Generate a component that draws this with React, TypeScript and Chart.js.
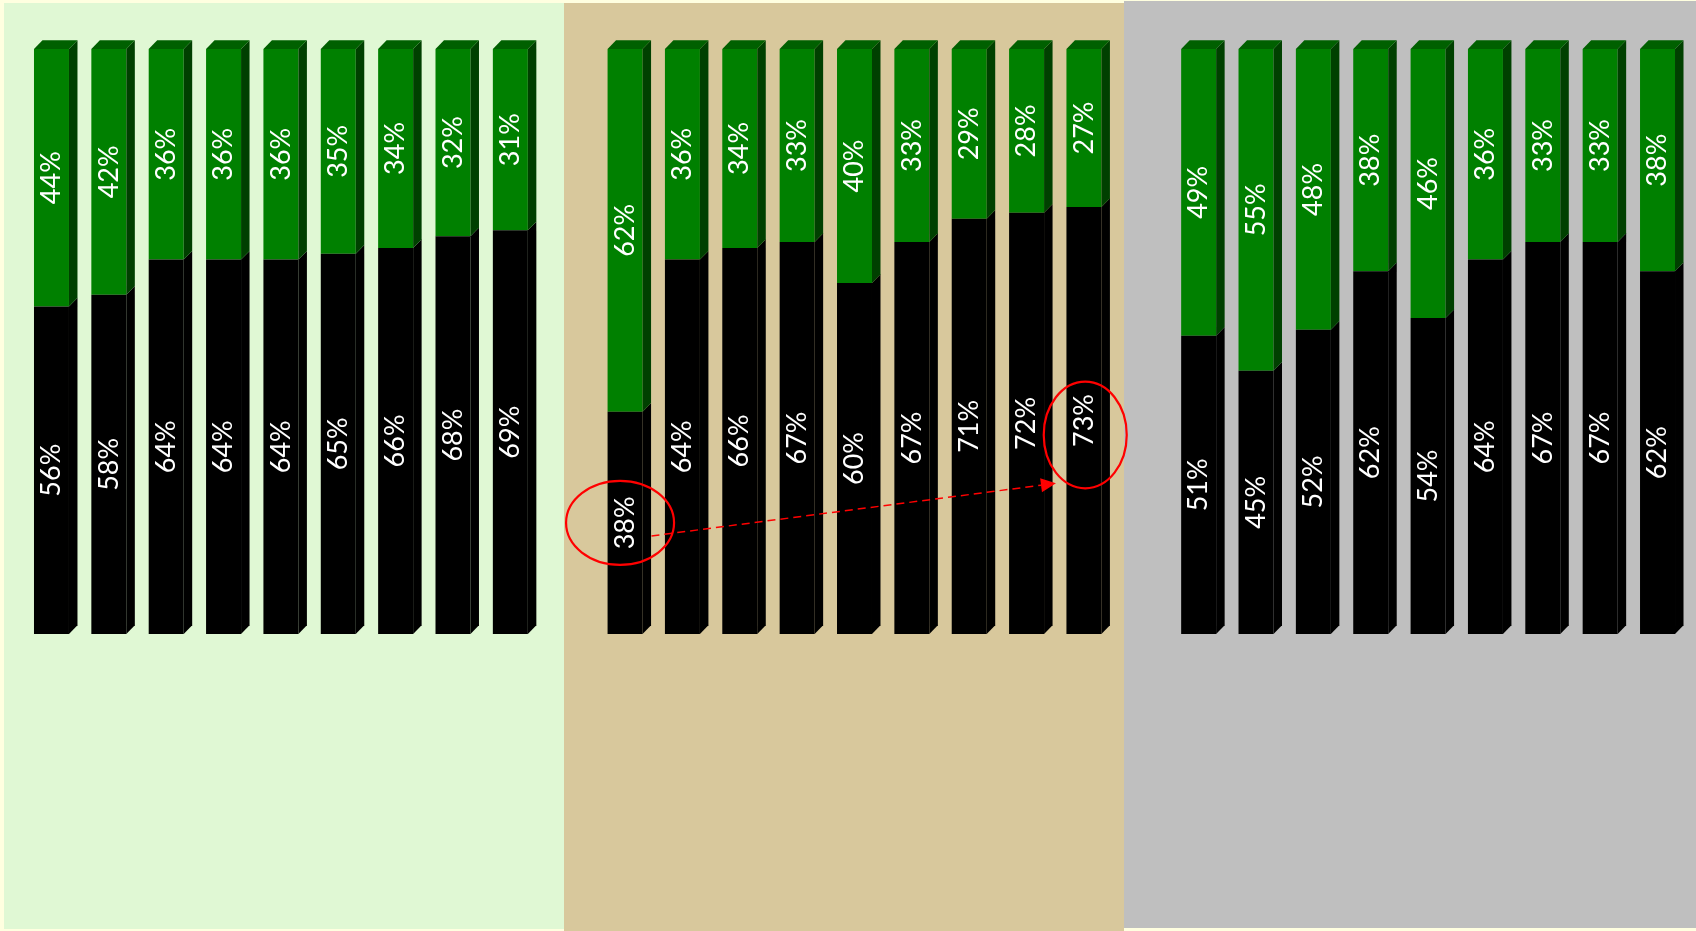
import React, { useEffect, useRef } from "react";
import { Chart, registerables } from "chart.js";

Chart.register(...registerables);

// ---- data (three groups of nine bars, shares in percent) ----
const GROUP_1_DARK = [56, 58, 64, 64, 64, 65, 66, 68, 69];
const GROUP_1_GREEN = [44, 42, 36, 36, 36, 35, 34, 32, 31];
const GROUP_2_DARK = [38, 64, 66, 67, 60, 67, 71, 72, 73];
const GROUP_2_GREEN = [62, 36, 34, 33, 40, 33, 29, 28, 27];
const GROUP_3_DARK = [51, 45, 52, 62, 54, 64, 67, 67, 62];
const GROUP_3_GREEN = [49, 55, 48, 38, 46, 36, 33, 33, 38];

// highlighted comparison: group 2, bar 1 -> group 2, bar 9 (dark series)
const HIGHLIGHT_FROM = { group: 1, bar: 0 };
const HIGHLIGHT_TO = { group: 1, bar: 8 };

// ---- styles ----
const PAGE_BG = "#ffffe0";
const PANELS = [
  { x0: 4, x1: 564, y0: 3, y1: 929, color: "#e0f8d4" },
  { x0: 564, x1: 1124, y0: 3, y1: 931, color: "#d8c89c" },
  { x0: 1124, x1: 1696, y0: 1, y1: 928, color: "#bfbfbf" },
];
const DARK = { front: "#000000", side: "#000000", top: "#101010" };
const GREEN = { front: "#008000", side: "#004000", top: "#006000" };
const DEPTH_X = 8.5;
const DEPTH_Y = 8.7;
const LABEL_FONT = "27px Lato";

function buildSeries(a: number[], b: number[], c: number[]): (number | null)[] {
  return [...a, null, ...b, null, ...c];
}

const darkSeries = buildSeries(GROUP_1_DARK, GROUP_2_DARK, GROUP_3_DARK);
const greenSeries = buildSeries(GROUP_1_GREEN, GROUP_2_GREEN, GROUP_3_GREEN);
const categories = darkSeries.map((_, i) => `c${i}`);
const indexOf = (p: { group: number; bar: number }) => p.group * 10 + p.bar;

const backgroundPlugin = {
  id: "panelBackground",
  beforeDraw(chart: any) {
    const ctx = chart.ctx;
    ctx.save();
    ctx.fillStyle = PAGE_BG;
    ctx.fillRect(0, 0, chart.width, chart.height);
    for (const p of PANELS) {
      ctx.fillStyle = p.color;
      ctx.fillRect(p.x0, p.y0, p.x1 - p.x0, p.y1 - p.y0);
    }
    ctx.restore();
  },
};

const threeDPlugin = {
  id: "bars3d",
  afterDatasetsDraw(chart: any) {
    const ctx = chart.ctx;
    const metas = [chart.getDatasetMeta(0), chart.getDatasetMeta(1)];
    const styles = [DARK, GREEN];
    ctx.save();
    metas.forEach((meta: any, di: number) => {
      meta.data.forEach((el: any, i: number) => {
        const v = chart.data.datasets[di].data[i];
        if (v == null) return;
        const { x, y, base, width } = el.getProps(["x", "y", "base", "width"], true);
        const r = x + width / 2;
        const l = x - width / 2;
        // side face
        ctx.fillStyle = styles[di].side;
        ctx.beginPath();
        ctx.moveTo(r, y);
        ctx.lineTo(r + DEPTH_X, y - DEPTH_Y);
        ctx.lineTo(r + DEPTH_X, base - DEPTH_Y);
        ctx.lineTo(r, base);
        ctx.closePath();
        ctx.fill();
        // top face (only for the topmost segment)
        if (di === metas.length - 1) {
          ctx.fillStyle = styles[di].top;
          ctx.beginPath();
          ctx.moveTo(l, y);
          ctx.lineTo(l + DEPTH_X, y - DEPTH_Y);
          ctx.lineTo(r + DEPTH_X, y - DEPTH_Y);
          ctx.lineTo(r, y);
          ctx.closePath();
          ctx.fill();
        }
      });
    });
    // value labels
    ctx.fillStyle = "#ffffff";
    ctx.font = LABEL_FONT;
    ctx.textAlign = "center";
    ctx.textBaseline = "middle";
    metas.forEach((meta: any, di: number) => {
      meta.data.forEach((el: any, i: number) => {
        const v = chart.data.datasets[di].data[i];
        if (v == null) return;
        const { x, y, base } = el.getProps(["x", "y", "base"], true);
        ctx.save();
        ctx.translate(x, (y + base) / 2);
        ctx.rotate(-Math.PI / 2);
        ctx.fillText(`${v}%`, 0, 0);
        ctx.restore();
      });
    });
    ctx.restore();
  },
};

const annotationPlugin = {
  id: "highlightArrow",
  afterDraw(chart: any) {
    const ctx = chart.ctx;
    const meta = chart.getDatasetMeta(0);
    const a = meta.data[indexOf(HIGHLIGHT_FROM)].getProps(["x", "y", "base"], true);
    const b = meta.data[indexOf(HIGHLIGHT_TO)].getProps(["x", "y", "base"], true);
    const ca = { x: a.x, y: (a.y + a.base) / 2 };
    const cb = { x: b.x, y: (b.y + b.base) / 2 };
    ctx.save();
    ctx.strokeStyle = "#ff0000";
    ctx.fillStyle = "#ff0000";
    ctx.lineWidth = 2.2;
    ctx.beginPath();
    ctx.ellipse(ca.x - 5, ca.y, 54, 42, 0, 0, Math.PI * 2);
    ctx.stroke();
    ctx.beginPath();
    ctx.ellipse(cb.x + 1.3, cb.y + 14.5, 41.5, 53.3, 0, 0, Math.PI * 2);
    ctx.stroke();
    // dashed arrow
    const sx = ca.x + 26.4;
    const sy = ca.y + 13.1;
    const ex = cb.x - 28;
    const ey = cb.y + 62.8;
    const ang = Math.atan2(ey - sy, ex - sx);
    const headLen = 15;
    const headHalf = 7;
    const bx = ex - headLen * Math.cos(ang);
    const by = ey - headLen * Math.sin(ang);
    ctx.lineWidth = 1.5;
    ctx.setLineDash([8, 5]);
    ctx.beginPath();
    ctx.moveTo(sx, sy);
    ctx.lineTo(bx, by);
    ctx.stroke();
    ctx.setLineDash([]);
    ctx.beginPath();
    ctx.moveTo(ex, ey);
    ctx.lineTo(bx + headHalf * Math.sin(ang), by - headHalf * Math.cos(ang));
    ctx.lineTo(bx - headHalf * Math.sin(ang), by + headHalf * Math.cos(ang));
    ctx.closePath();
    ctx.fill();
    ctx.restore();
  },
};

export default function App() {
  const canvasRef = useRef<HTMLCanvasElement | null>(null);

  useEffect(() => {
    if (!canvasRef.current) return;
    const chart = new Chart(canvasRef.current, {
      type: "bar",
      data: {
        labels: categories,
        datasets: [
          {
            label: "dark",
            data: darkSeries,
            backgroundColor: DARK.front,
            borderWidth: 0,
            barPercentage: 0.61,
            categoryPercentage: 1,
            clip: false as any,
          },
          {
            label: "green",
            data: greenSeries,
            backgroundColor: GREEN.front,
            borderWidth: 0,
            barPercentage: 0.61,
            categoryPercentage: 1,
            clip: false as any,
          },
        ],
      },
      options: {
        responsive: false,
        animation: false,
        devicePixelRatio: 1,
        layout: { padding: { left: 22.8, right: 9.8, top: 49, bottom: 297 } },
        plugins: {
          legend: { display: false },
          tooltip: { enabled: false },
          title: { display: false },
        },
        scales: {
          x: { stacked: true, display: false },
          y: { stacked: true, display: false, min: 0, max: 100 },
        },
      },
      plugins: [backgroundPlugin, threeDPlugin, annotationPlugin],
    });
    return () => chart.destroy();
  }, []);

  return (
    <div
      style={{
        position: "fixed",
        left: 0,
        top: 0,
        width: "1696px",
        height: "931px",
        background: PAGE_BG,
      }}
    >
      <canvas ref={canvasRef} width={1696} height={931} style={{ display: "block" }} />
    </div>
  );
}
